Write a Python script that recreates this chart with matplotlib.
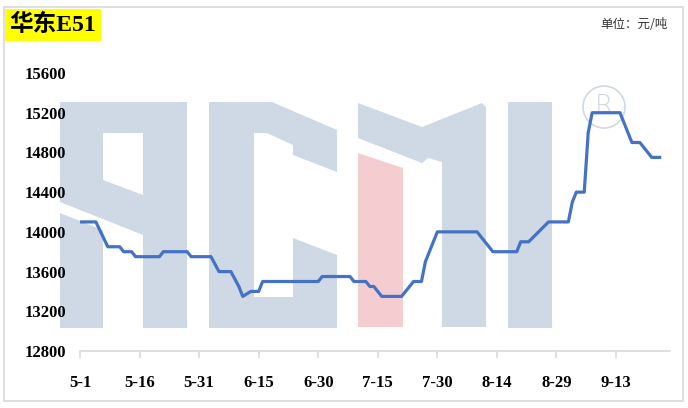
import numpy as np
import matplotlib.pyplot as plt
from matplotlib.patches import Polygon, Rectangle, Ellipse

# 数据 (从5-1开始的天数, 价格 元/吨)
days = [0, 4, 7, 10, 11, 13, 14, 20, 21, 27,
        28, 33, 35, 38, 40, 41, 43, 45, 46, 60,
        61, 68, 69, 72, 73, 74, 76, 81, 84, 86,
        87, 90, 100, 104, 110, 111, 113, 118, 123, 124,
        125, 127, 128, 129, 136, 139, 141, 144, 146]
prices = [14100, 14100, 13850, 13850, 13800, 13800, 13750, 13750, 13800, 13800,
          13750, 13750, 13600, 13600, 13450, 13350, 13400, 13400, 13500, 13500,
          13550, 13550, 13500, 13500, 13450, 13450, 13350, 13350, 13500, 13500,
          13700, 14000, 14000, 13800, 13800, 13900, 13900, 14100, 14100, 14300,
          14400, 14400, 15000, 15200, 15200, 14900, 14900, 14750, 14750]
xtick_pos = [0, 15, 30, 45, 60, 75, 90, 105, 120, 135]
xtick_lab = ['5-1', '5-16', '5-31', '6-15', '6-30', '7-15', '7-30', '8-14', '8-29', '9-13']
yticks = [12800, 13200, 13600, 14000, 14400, 14800, 15200, 15600]

W, H = 688, 408
fig = plt.figure(figsize=(W / 100, H / 100), dpi=100)

def px(pts):
    # 像素坐标 -> 图形坐标
    return [(x / W, 1 - y / H) for x, y in pts]

# 外框
fig.patches.append(Rectangle((4 / W, 1 - 401 / H), 679 / W, 394 / H, transform=fig.transFigure,
                             fill=False, ec='#d9d9d9', lw=1.2, zorder=-2))

# 水印 ACMI
wm = '#cfd8e5'
shapes = [
    [(143, 102), (187, 102), (187, 328), (143, 328)],
    [(60, 102), (143, 102), (143, 133), (103, 133), (103, 180), (143, 195), (143, 235), (60, 202)],
    [(60, 213), (103, 230), (103, 328), (60, 328)],
    [(209, 102), (272, 102), (337, 130), (337, 172), (293, 155), (293, 145), (267, 133), (254, 133),
     (254, 297), (293, 297), (293, 238), (337, 255), (337, 328), (209, 328)],
    [(358, 103), (422, 127), (482, 103), (486, 107), (486, 327), (442, 327), (442, 162),
     (428, 158), (422, 163), (358, 138)],
    [(508, 102), (552, 102), (552, 328), (508, 328)],
]
for s in shapes:
    fig.patches.append(Polygon(px(s), closed=True, transform=fig.transFigure, fc=wm, ec='none', zorder=-1))
fig.patches.append(Polygon(px([(358, 153), (403, 168), (403, 327), (358, 327)]), closed=True,
                           transform=fig.transFigure, fc='#f5cdd0', ec='none', zorder=-1))
fig.patches.append(Ellipse((604 / W, 1 - 107 / H), 42 / W, 42 / H, transform=fig.transFigure,
                           fill=False, ec=wm, lw=1.2, zorder=-1))
fig.text(604 / W, 1 - 106 / H, 'R', fontsize=19, color=wm, ha='center', va='center',
         family='DejaVu Sans', fontweight='light', zorder=-1)

ax = fig.add_axes([80 / W, 1 - 351 / H, 590 / W, 278 / H])
ax.set_facecolor('none')
ax.plot(days, prices, color='#4472c4', lw=2.3, solid_joinstyle='round')

ax.set_xlim(0, 148.6)
ax.set_ylim(12800, 15600)
ax.set_xticks(xtick_pos)
ax.set_xticklabels(xtick_lab)
ax.set_yticks(yticks)
for sp in ['top', 'right', 'left']:
    ax.spines[sp].set_visible(False)
ax.spines['bottom'].set_color('#d9d9d9')
ax.spines['bottom'].set_linewidth(1.2)
ax.tick_params(axis='x', length=5, color='#d9d9d9', width=1.2, pad=12)
ax.tick_params(axis='y', length=0, pad=10)
for lab in ax.get_xticklabels() + ax.get_yticklabels():
    lab.set_family('Liberation Serif')
    lab.set_fontweight('bold')
    lab.set_fontsize(12)

# 标题
fig.patches.append(Rectangle((5 / W, 1 - 41 / H), 96 / W, 32 / H, transform=fig.transFigure,
                             fc='#ffff00', ec='none', zorder=1))
fig.text(9 / W, 1 - 25 / H, '华东E51', fontsize=17, fontweight='bold', va='center', ha='left',
         family=['Liberation Serif', 'Noto Sans CJK SC'], zorder=2)
fig.text(668 / W, 1 - 25 / H, '单位：元/吨', fontsize=9, va='center', ha='right',
         family=['Noto Sans CJK SC', 'DejaVu Sans'], color='#333333')

plt.savefig('out.png', dpi=100)
